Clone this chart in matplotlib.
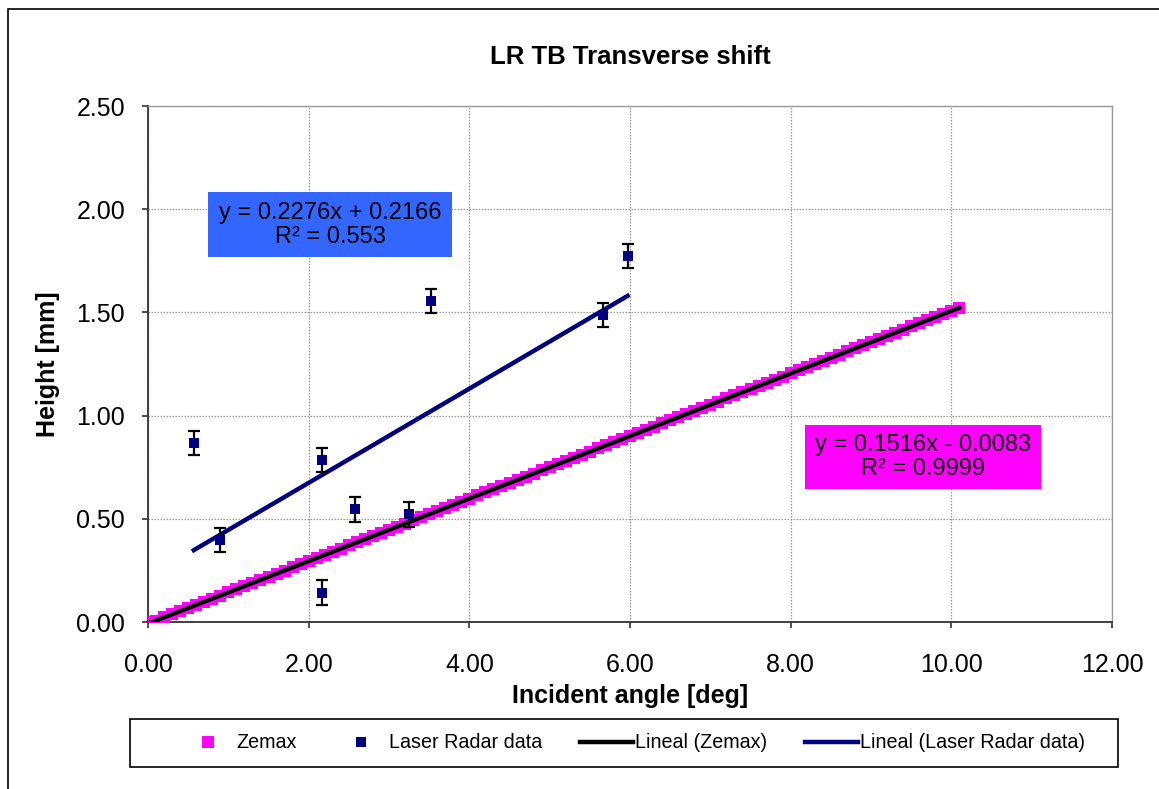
import matplotlib
matplotlib.use("Agg")
import matplotlib.pyplot as plt
import matplotlib.patches as patches
from matplotlib.ticker import FormatStrFormatter, MultipleLocator
import numpy as np

plt.rcParams['font.family'] = ['Liberation Sans', 'DejaVu Sans']

# Zemax simulation (dense series, step 0.1 deg)
zemax_x = [0.0, 0.1, 0.2, 0.3, 0.4, 0.5, 0.6, 0.7, 0.8, 0.9,
           1.0, 1.1, 1.2, 1.3, 1.4, 1.5, 1.6, 1.7, 1.8, 1.9,
           2.0, 2.1, 2.2, 2.3, 2.4, 2.5, 2.6, 2.7, 2.8, 2.9,
           3.0, 3.1, 3.2, 3.3, 3.4, 3.5, 3.6, 3.7, 3.8, 3.9,
           4.0, 4.1, 4.2, 4.3, 4.4, 4.5, 4.6, 4.7, 4.8, 4.9,
           5.0, 5.1, 5.2, 5.3, 5.4, 5.5, 5.6, 5.7, 5.8, 5.9,
           6.0, 6.1, 6.2, 6.3, 6.4, 6.5, 6.6, 6.7, 6.8, 6.9,
           7.0, 7.1, 7.2, 7.3, 7.4, 7.5, 7.6, 7.7, 7.8, 7.9,
           8.0, 8.1, 8.2, 8.3, 8.4, 8.5, 8.6, 8.7, 8.8, 8.9,
           9.0, 9.1, 9.2, 9.3, 9.4, 9.5, 9.6, 9.7, 9.8, 9.9,
           10.0, 10.1]
zemax_y = [0.000, 0.007, 0.022, 0.037, 0.052, 0.067, 0.083, 0.098, 0.113, 0.128,
           0.143, 0.158, 0.174, 0.189, 0.204, 0.219, 0.234, 0.249, 0.265, 0.280,
           0.295, 0.310, 0.325, 0.340, 0.356, 0.371, 0.386, 0.401, 0.416, 0.431,
           0.446, 0.462, 0.477, 0.492, 0.507, 0.522, 0.537, 0.553, 0.568, 0.583,
           0.598, 0.613, 0.628, 0.644, 0.659, 0.674, 0.689, 0.704, 0.719, 0.735,
           0.750, 0.765, 0.780, 0.795, 0.810, 0.825, 0.841, 0.856, 0.871, 0.886,
           0.901, 0.916, 0.932, 0.947, 0.962, 0.977, 0.992, 1.007, 1.023, 1.038,
           1.053, 1.068, 1.083, 1.098, 1.114, 1.129, 1.144, 1.159, 1.174, 1.189,
           1.204, 1.220, 1.235, 1.250, 1.265, 1.280, 1.295, 1.311, 1.326, 1.341,
           1.356, 1.371, 1.386, 1.402, 1.417, 1.432, 1.447, 1.462, 1.477, 1.493,
           1.508, 1.523]

# Laser radar measurements
radar_x = [0.57, 0.90, 2.17, 2.17, 2.58, 3.25, 3.52, 5.66, 5.97]
radar_y = [0.867, 0.397, 0.785, 0.142, 0.546, 0.522, 1.555, 1.487, 1.773]
radar_err = [0.06, 0.06, 0.06, 0.06, 0.06, 0.06, 0.06, 0.06, 0.06]

eq_zemax = "y = 0.1516x - 0.0083\nR² = 0.9999"
eq_radar = "y = 0.2276x + 0.2166\nR² = 0.553"

W, H = 1159, 789
fig = plt.figure(figsize=(W / 100, H / 100), dpi=100)
ax = fig.add_axes([148 / W, 1 - 622 / H, (1112 - 148) / W, (622 - 106) / H])


def px_rect(x0, y0, x1, y1, **kw):
    # rectangle given in image pixels (origin top-left)
    return patches.Rectangle((x0 / W, 1 - y1 / H), (x1 - x0) / W, (y1 - y0) / H,
                             transform=fig.transFigure, **kw)


# outer chart border
fig.patches.append(patches.Rectangle((8 / W, -0.05), 1.2, 1 - 9 / H + 0.05,
                                     transform=fig.transFigure, fill=False,
                                     edgecolor='black', linewidth=1.2))

ax.plot(zemax_x, zemax_y, linestyle='none', marker='s', markersize=8,
        color='#FF00FF', markeredgewidth=0, label='Zemax', zorder=3)

# trend lines (least squares)
zx = np.array(zemax_x)
zc = np.polyfit(zx, zemax_y, 1)
xx = np.array([zx.min(), zx.max()])
ax.plot(xx, np.polyval(zc, xx), color='black', linewidth=3.2, zorder=4,
        label='Lineal (Zemax)')

rx = np.array(radar_x)
rc = np.polyfit(rx, radar_y, 1)
xr = np.array([rx.min(), rx.max()])
ax.plot(xr, np.polyval(rc, xr), color='#000080', linewidth=3.2, zorder=4,
        label='Lineal (Laser Radar data)')

ax.errorbar(radar_x, radar_y, yerr=radar_err, fmt='none', ecolor='black',
            elinewidth=1.6, capsize=4.3, capthick=1.6, zorder=5)
ax.plot(radar_x, radar_y, linestyle='none', marker='s', markersize=6.5,
        color='#000080', markeredgewidth=0, label='Laser Radar data', zorder=6)

ax.set_xlim(0, 12)
ax.set_ylim(0, 2.5)
ax.xaxis.set_major_locator(MultipleLocator(2))
ax.yaxis.set_major_locator(MultipleLocator(0.5))
ax.xaxis.set_major_formatter(FormatStrFormatter('%.2f'))
ax.yaxis.set_major_formatter(FormatStrFormatter('%.2f'))
ax.grid(True, color='#999999', linestyle=(0, (1.2, 1.2)), linewidth=0.9)
ax.set_axisbelow(True)
ax.tick_params(direction='out', length=4.5, width=1.2, labelsize=18,
               colors='#333333', labelcolor='black')
ax.tick_params(axis='x', pad=18)
ax.tick_params(axis='y', pad=12)
for s in ['left', 'bottom']:
    ax.spines[s].set_color('#333333')
    ax.spines[s].set_linewidth(1.3)
for s in ['top', 'right']:
    ax.spines[s].set_color('#999999')
    ax.spines[s].set_linewidth(1.0)

ax.set_title('LR TB Transverse shift', fontsize=18.5, fontweight='bold', pad=30)
ax.set_xlabel('Incident angle [deg]', fontsize=18, fontweight='bold', labelpad=5)
ax.set_ylabel('Height [mm]', fontsize=18, fontweight='bold', labelpad=12)

# trendline equation boxes
fig.patches.append(px_rect(208, 192, 452, 257, facecolor='#3366FF', edgecolor='none'))
fig.patches.append(px_rect(805, 425, 1041, 489, facecolor='#FF00FF', edgecolor='none'))
fig.text(330 / W, 1 - 225 / H, eq_radar, fontsize=17, ha='center', va='center',
         linespacing=1.15)
fig.text(923 / W, 1 - 457 / H, eq_zemax, fontsize=17, ha='center', va='center',
         linespacing=1.15)

# legend
fig.patches.append(px_rect(130, 719, 1118, 767, fill=False, edgecolor='black',
                           linewidth=1.2))
handles, labels = ax.get_legend_handles_labels()
order = ['Zemax', 'Laser Radar data', 'Lineal (Zemax)', 'Lineal (Laser Radar data)']
hmap = dict(zip(labels, handles))
leg = fig.legend([hmap[k] for k in order], order, ncol=4, loc='center',
                 bbox_to_anchor=(633 / W, 1 - 743 / H), frameon=False,
                 prop={'size': 14.2}, handlelength=2.7, handletextpad=0.1,
                 columnspacing=1.9, borderaxespad=0, borderpad=0)

fig.savefig('out.png', dpi=100)
